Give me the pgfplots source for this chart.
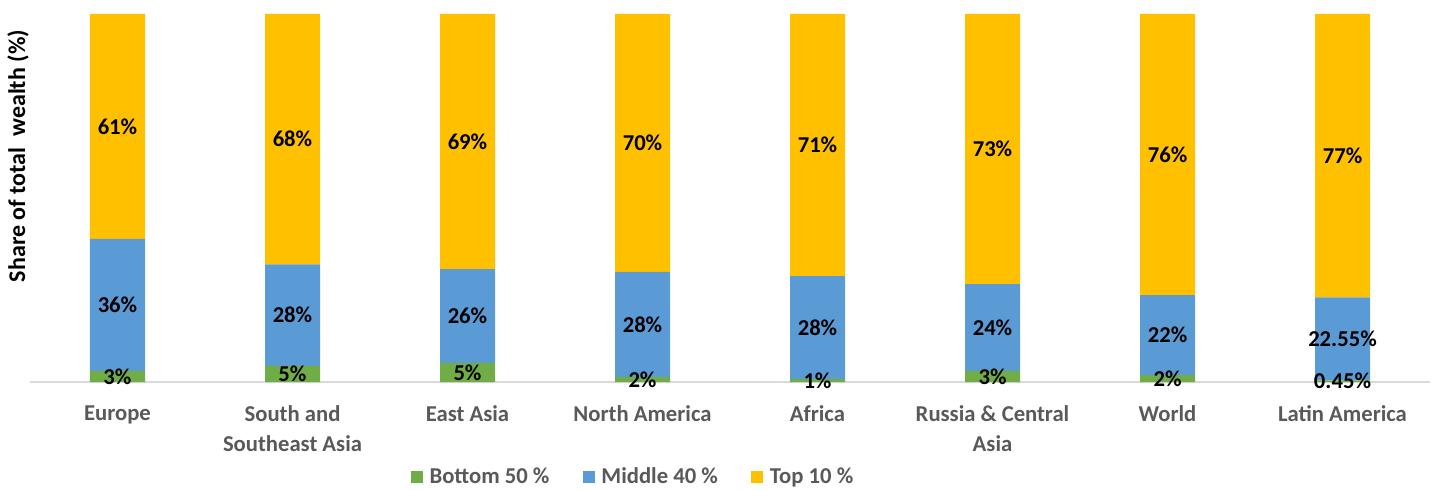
\documentclass[border=0pt]{standalone}
\usepackage{pgfplots}
\usepackage{pgfplotstable}
\pgfplotsset{compat=1.18}
\usepackage{fontspec}
\setmainfont{Carlito}

\definecolor{cbot}{HTML}{70AD47}
\definecolor{cmid}{HTML}{5B9BD5}
\definecolor{ctop}{HTML}{FFC000}
\definecolor{tgray}{HTML}{595959}

% shares of total wealth; b/m/t = bar heights, lb/lm/lt = printed labels
\pgfplotstableread{
x b    m     t    lb   lm    lt
0 3.0  35.9  61.1 3    36    61
1 4.4  27.6  68.0 5    28    68
2 5.2  25.5  69.3 5    26    69
3 1.4  28.5  70.1 2    28    70
4 0.8  28.0  71.2 1    28    71
5 3.0  23.6  73.4 3    24    73
6 1.9  21.7  76.4 2    22    76
7 0.45 22.55 77.0 0.45 22.55 77
}\wealth

\pgfplotsset{
  common/.style={
    scale only axis, width=1050pt, height=276pt,
    xmin=-0.5, xmax=7.5, ymin=0, ymax=100,
  },
}

\begin{document}
\begin{tikzpicture}
\begin{axis}[common, name=ax,
    ybar stacked, bar width=41.25pt,
    axis y line*=left, y axis line style={draw=none}, ytick=\empty,
    axis x line*=bottom,
    x axis line style={draw=black!15, line width=1pt, -},
    xtick=data, xtick style={draw=none},
    xticklabels={Europe, {South and\\Southeast Asia}, East Asia, North America, Africa, {Russia \& Central\\Asia}, World, Latin America},
    xticklabel style={font=\fontsize{17}{22.5}\selectfont\bfseries, text=tgray, align=center, anchor=north, yshift=-14pt},
    ylabel={Share of total\ \ wealth (\%)},
    every axis y label/.style={at={(axis description cs:-0.0086,0.614)}, rotate=90, anchor=center, font=\fontsize{18}{20}\selectfont\bfseries},
    legend columns=3,
    legend style={draw=none, at={(axis description cs:0.269,-0.258)}, anchor=west,
      font=\fontsize{17}{20}\selectfont\bfseries, text=tgray,
      /tikz/every odd column/.append style={column sep=3pt},
      /tikz/every even column/.append style={column sep=23pt}},
    legend image code/.code={\fill[#1] (0pt,-4.5pt) rectangle (9pt,4.5pt);},
  ]
\addplot[fill=cbot, draw=none] table[x=x, y=b] {\wealth};
\addlegendentry{Bottom 50 \%}
\addplot[fill=cmid, draw=none] table[x=x, y=m] {\wealth};
\addlegendentry{Middle 40 \%}
\addplot[fill=ctop, draw=none] table[x=x, y=t] {\wealth};
\addlegendentry{Top 10 \%}
\end{axis}

\begin{axis}[common, hide axis,
    nodes near coords={\pgfplotspointmeta\%},
    point meta=explicit symbolic,
    every node near coord/.style={anchor=center, font=\fontsize{17}{20}\selectfont\bfseries, text=black},
  ]
\addplot[only marks, mark=none] table[x=x, y expr=\thisrow{b}/2, meta=lb] {\wealth};
\addplot[only marks, mark=none] table[x=x, y expr=\thisrow{b}+\thisrow{m}/2, meta=lm] {\wealth};
\addplot[only marks, mark=none] table[x=x, y expr=\thisrow{b}+\thisrow{m}+\thisrow{t}/2, meta=lt] {\wealth};
\end{axis}

\pgfresetboundingbox
\path[use as bounding box] ([xshift=-22.5pt, yshift=-80.25pt]ax.south west) rectangle ([xshift=5.25pt, yshift=10.5pt]ax.north east);
\end{tikzpicture}
\end{document}
